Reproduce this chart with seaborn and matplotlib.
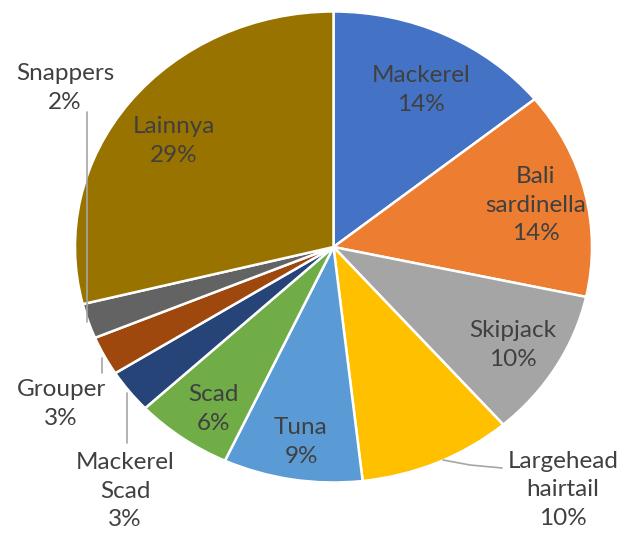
import matplotlib
matplotlib.use("Agg")
import matplotlib.pyplot as plt
import seaborn as sns

sns.set_theme(style="white")
plt.rcParams["font.family"] = ["Lato", "DejaVu Sans"]

# Catch composition by species (share of total, %)
species = ["Mackerel", "Bali\nsardinella", "Skipjack", "Largehead\nhairtail", "Tuna",
           "Scad", "Mackerel\nScad", "Grouper", "Snappers", "Lainnya"]
shares = [14.2, 14.2, 10.2, 9.6, 8.7, 6.1, 3.0, 2.7, 2.4, 28.9]
colors = ["#4472C4", "#ED7D31", "#A5A5A5", "#FFC000", "#5B9BD5",
          "#70AD47", "#264478", "#9E480E", "#636363", "#997300"]

# Label block centres in pixel coordinates of the 624x534 canvas
label_px = {
    "Mackerel": (421, 90),
    "Bali\nsardinella": (536, 205),
    "Skipjack": (513, 345),
    "Largehead\nhairtail": (563, 490),
    "Tuna": (301, 442),
    "Scad": (213, 409),
    "Mackerel\nScad": (125, 491),
    "Grouper": (61, 404),
    "Snappers": (65, 88),
    "Lainnya": (174, 141),
}
# Leader lines (pixel coordinates)
leaders = [
    [(87, 112), (87, 322)],
    [(102, 358), (102, 373)],
    [(127, 393), (127, 443)],
    [(443, 460), (470, 465), (502, 468)],
]

W, H = 624, 534
cx, cy, rx, ry = 333.5, 247, 258.5, 235.5

fig = plt.figure(figsize=(W / 100, H / 100), dpi=100)
ax = fig.add_axes([(cx - rx) / W, (H - cy - ry) / H, 2 * rx / W, 2 * ry / H])

ax.pie(shares, colors=colors, startangle=90, counterclock=False, radius=1,
       wedgeprops=dict(edgecolor="white", linewidth=1.8))
ax.set_aspect("auto")
ax.set_xlim(-1, 1)
ax.set_ylim(-1, 1)
ax.axis("off")


def to_data(px, py):
    return (px - cx) / rx, (cy - py) / ry


for name, val in zip(species, shares):
    x, y = to_data(*label_px[name])
    ax.text(x, y, f"{name}\n{val:.0f}%", ha="center", va="center",
            fontsize=17.5, color="#404040", linespacing=1.42, clip_on=False)

for pts in leaders:
    xs, ys = zip(*[to_data(*p) for p in pts])
    ax.plot(xs, ys, color="#A6A6A6", lw=1.2, clip_on=False)

fig.savefig("out.png", dpi=100)
